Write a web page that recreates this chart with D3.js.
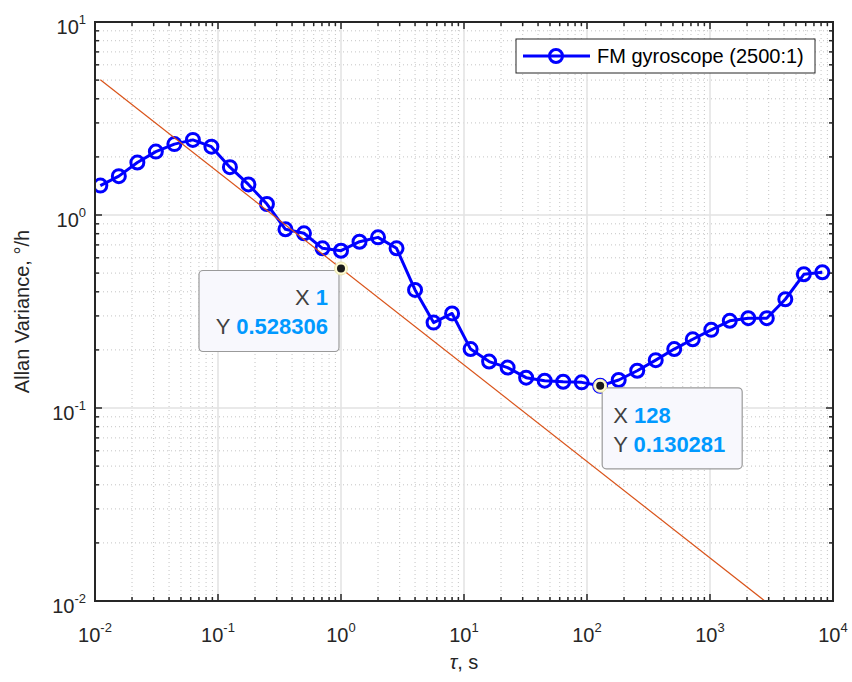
<!DOCTYPE html>
<html>
<head>
<meta charset="utf-8">
<script src="https://cdn.jsdelivr.net/npm/d3@7"></script>
<style>
  body { margin: 0; background: #fff; }
  svg { display: block; font-family: "Liberation Sans", Arial, Helvetica, sans-serif; }
</style>
</head>
<body>
<svg id="chart" width="852" height="682"></svg>
<script>
// Allan deviation of the FM gyroscope, averaging time tau = 2^(k/2) s
const tauExponents = d3.range(-13, 27);            // k values, tau = 2^(k/2)
const allanValues = [
  1.42, 1.59, 1.87, 2.13, 2.33, 2.45, 2.26, 1.77, 1.44, 1.14,
  0.843, 0.804, 0.672, 0.653, 0.727, 0.766, 0.672, 0.409, 0.277, 0.309,
  0.202, 0.174, 0.162, 0.1436, 0.1385, 0.1368, 0.1358, 0.130281, 0.1397, 0.156,
  0.177, 0.202, 0.227, 0.254, 0.283, 0.292, 0.292, 0.366, 0.493, 0.505
];
const seriesName = "FM gyroscope (2500:1)";

// Angle random walk reference: slope -1/2 through tau = 1
const arwCoefficient = 0.528306;

// Data tips
const tipTaus = [1, 128];
const tipValues = [0.528306, 0.130281];
const tipLabels = [["1", "0.528306"], ["128", "0.130281"]];

const xTickExps = [-2, -1, 0, 1, 2, 3, 4];
const yTickExps = [-2, -1, 0, 1];

const taus = tauExponents.map(k => Math.pow(2, k / 2));
const points = taus.map((t, i) => ({ t, v: allanValues[i] }));

const W = 852, H = 682;
const m = { left: 95, right: 19, top: 22, bottom: 81 };
const pw = W - m.left - m.right, ph = H - m.top - m.bottom;

const svg = d3.select("#chart");
const x = d3.scaleLog().domain([1e-2, 1e4]).range([m.left, m.left + pw]);
const y = d3.scaleLog().domain([1e-2, 1e1]).range([m.top + ph, m.top]);

const axisColor = "#262626";

// minor / major values
const xMinor = [], yMinor = [];
xTickExps.slice(0, -1).forEach(e => { for (let d = 2; d <= 9; d++) xMinor.push(d * Math.pow(10, e)); });
yTickExps.slice(0, -1).forEach(e => { for (let d = 2; d <= 9; d++) yMinor.push(d * Math.pow(10, e)); });
const xMajor = xTickExps.map(e => Math.pow(10, e));
const yMajor = yTickExps.map(e => Math.pow(10, e));

// background
svg.append("rect").attr("x", m.left).attr("y", m.top).attr("width", pw).attr("height", ph).attr("fill", "#fff");

const grid = svg.append("g");
// minor grid (dotted)
grid.selectAll(".xmin").data(xMinor).join("line")
  .attr("x1", d => x(d)).attr("x2", d => x(d)).attr("y1", m.top).attr("y2", m.top + ph)
  .attr("stroke", "#c4c4c4").attr("stroke-width", 1).attr("stroke-dasharray", "1,3");
grid.selectAll(".ymin").data(yMinor).join("line")
  .attr("y1", d => y(d)).attr("y2", d => y(d)).attr("x1", m.left).attr("x2", m.left + pw)
  .attr("stroke", "#c4c4c4").attr("stroke-width", 1).attr("stroke-dasharray", "1,3");
// major grid (solid, light)
grid.selectAll(".xmaj").data(xMajor.slice(1, -1)).join("line")
  .attr("x1", d => x(d)).attr("x2", d => x(d)).attr("y1", m.top).attr("y2", m.top + ph)
  .attr("stroke", "#e2e2e2").attr("stroke-width", 1.5);
grid.selectAll(".ymaj").data(yMajor.slice(1, -1)).join("line")
  .attr("y1", d => y(d)).attr("y2", d => y(d)).attr("x1", m.left).attr("x2", m.left + pw)
  .attr("stroke", "#e2e2e2").attr("stroke-width", 1.5);

// clip for plotted content
svg.append("clipPath").attr("id", "plotClip").append("rect")
  .attr("x", m.left).attr("y", m.top).attr("width", pw).attr("height", ph);
const plot = svg.append("g").attr("clip-path", "url(#plotClip)");

// data series
const line = d3.line().x(d => x(d.t)).y(d => y(d.v));
plot.append("path").datum(points).attr("d", line)
  .attr("fill", "none").attr("stroke", "#0000ff").attr("stroke-width", 3).attr("stroke-linejoin", "round");
plot.selectAll(".mk").data(points).join("circle")
  .attr("cx", d => x(d.t)).attr("cy", d => y(d.v)).attr("r", 6.5)
  .attr("fill", "none").attr("stroke", "#0000ff").attr("stroke-width", 3);

// reference slope line
const refTaus = [taus[0], taus[taus.length - 1]];
plot.append("path").datum(refTaus.map(t => ({ t, v: arwCoefficient / Math.sqrt(t) })))
  .attr("d", line).attr("fill", "none").attr("stroke", "#d95319").attr("stroke-width", 1.2);

// axes box + ticks
const axes = svg.append("g");
const majLen = 7, minLen = 4;
function ticksX(vals, len) {
  vals.forEach(v => {
    axes.append("line").attr("x1", x(v)).attr("x2", x(v)).attr("y1", m.top + ph).attr("y2", m.top + ph - len)
      .attr("stroke", axisColor).attr("stroke-width", 1.5);
    axes.append("line").attr("x1", x(v)).attr("x2", x(v)).attr("y1", m.top).attr("y2", m.top + len)
      .attr("stroke", axisColor).attr("stroke-width", 1.5);
  });
}
function ticksY(vals, len) {
  vals.forEach(v => {
    axes.append("line").attr("y1", y(v)).attr("y2", y(v)).attr("x1", m.left).attr("x2", m.left + len)
      .attr("stroke", axisColor).attr("stroke-width", 1.5);
    axes.append("line").attr("y1", y(v)).attr("y2", y(v)).attr("x1", m.left + pw).attr("x2", m.left + pw - len)
      .attr("stroke", axisColor).attr("stroke-width", 1.5);
  });
}
ticksX(xMinor, minLen); ticksX(xMajor, majLen);
ticksY(yMinor, minLen); ticksY(yMajor, majLen);
axes.append("rect").attr("x", m.left).attr("y", m.top).attr("width", pw).attr("height", ph)
  .attr("fill", "none").attr("stroke", axisColor).attr("stroke-width", 2);

// tick labels
function powLabel(g, e) {
  g.append("tspan").text("10");
  g.append("tspan").attr("dy", -10).attr("font-size", 13).text(String(e));
}
xTickExps.forEach(e => {
  const t = svg.append("text").attr("x", x(Math.pow(10, e))).attr("y", m.top + ph + 41)
    .attr("text-anchor", "middle").attr("font-size", 20).attr("fill", axisColor);
  powLabel(t, e);
});
yTickExps.forEach(e => {
  const t = svg.append("text").attr("x", m.left - 9).attr("y", y(Math.pow(10, e)) + 12)
    .attr("text-anchor", "end").attr("font-size", 20).attr("fill", axisColor);
  powLabel(t, e);
});

// axis titles
const xt = svg.append("text").attr("x", m.left + pw / 2).attr("y", 669)
  .attr("text-anchor", "middle").attr("font-size", 20).attr("fill", axisColor);
xt.append("tspan").attr("font-style", "italic").text("τ");
xt.append("tspan").text(", s");
svg.append("text").attr("transform", `translate(29,${m.top + ph / 2}) rotate(-90)`)
  .attr("text-anchor", "middle").attr("font-size", 20).attr("fill", axisColor)
  .text("Allan Variance, °/h");

// legend
const lg = svg.append("g");
lg.append("rect").attr("x", 516).attr("y", 39).attr("width", 299).attr("height", 34)
  .attr("fill", "#fff").attr("stroke", "#262626").attr("stroke-width", 1);
lg.append("line").attr("x1", 523).attr("x2", 590).attr("y1", 56).attr("y2", 56)
  .attr("stroke", "#0000ff").attr("stroke-width", 3);
lg.append("circle").attr("cx", 556).attr("cy", 56).attr("r", 6.5)
  .attr("fill", "none").attr("stroke", "#0000ff").attr("stroke-width", 3);
lg.append("text").attr("x", 597).attr("y", 63).attr("font-size", 20).attr("fill", "#000").text(seriesName);

// data tips
const tips = svg.append("g");
tipTaus.forEach((t, i) => {
  const px = x(t), py = y(tipValues[i]);
  const leftSide = i === 0;
  const bx = leftSide ? px - 142 : px + 2, by = py + 2;
  tips.append("rect").attr("x", bx).attr("y", by).attr("width", 140).attr("height", 81)
    .attr("rx", 4).attr("fill", "#f8f8fd").attr("stroke", "#9a9a9a").attr("stroke-width", 1.2);
  const anchor = leftSide ? "end" : "start";
  const tx = leftSide ? bx + 129 : bx + 11;
  [["X ", tipLabels[i][0], 35], ["Y ", tipLabels[i][1], 64]].forEach(([lab, val, dy]) => {
    const tt = tips.append("text").attr("x", tx).attr("y", by + dy).attr("text-anchor", anchor).attr("font-size", 22);
    tt.append("tspan").attr("fill", "#404040").text(lab);
    tt.append("tspan").attr("fill", "#0099ff").attr("font-weight", "bold").text(val);
  });
  tips.append("circle").attr("cx", px).attr("cy", py).attr("r", 6.5)
    .attr("fill", "#fffbd0").attr("stroke", "#e8e4b0").attr("stroke-width", 1);
  tips.append("circle").attr("cx", px).attr("cy", py).attr("r", 4).attr("fill", "#1a1a1a");
});
</script>
</body>
</html>
